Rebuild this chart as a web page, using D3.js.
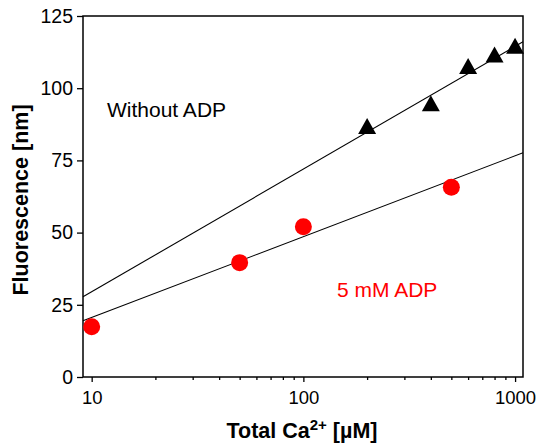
<!DOCTYPE html>
<html>
<head>
<meta charset="utf-8">
<script src="https://cdn.jsdelivr.net/npm/d3@7"></script>
<style>
    body { margin: 0; background: #fff; }
    svg { display: block; font-family: Arial, "Liberation Sans", sans-serif; }
</style>
</head>
<body>
<div id="chart"></div>
<script>
// data
const withoutCa = [200, 400, 600, 800, 1000];
const withoutF = [86.9, 94.8, 107.7, 111.7, 114.7];

const adpCa = [10, 50, 100, 500];
const adpF = [17.4, 39.6, 52.0, 65.7];

// fit lines: value at 10 µM, rise per decade
const withoutFit = [29.5, 42.5];
const adpFit = [20.6, 28.0];

const xMajor = [10, 100, 1000];
const xMinor = [20, 30, 40, 50, 60, 70, 80, 90, 200, 300, 400, 500, 600, 700, 800, 900];
const yTicks = [0, 25, 50, 75, 100, 125];

const W = 536, H = 444;
const margin = { top: 16, right: 13, bottom: 67, left: 83 };
const width = W - margin.left - margin.right;
const height = H - margin.top - margin.bottom;

const svg = d3.select("#chart")
    .append("svg")
    .attr("width", W)
    .attr("height", H);

const g = svg.append("g")
    .attr("transform", `translate(${margin.left}, ${margin.top})`);

const xScale = d3.scaleLog()
    .domain([9.1, 1090])
    .range([0, width]);

const yScale = d3.scaleLinear()
    .domain([0, 125])
    .range([height, 0]);

// minor ticks first, major on top
g.append("g")
    .attr("transform", `translate(0, ${height})`)
    .call(d3.axisBottom(xScale).tickValues(xMinor).tickSize(3).tickFormat(""))
    .call(a => a.select(".domain").remove());

g.append("g")
    .attr("class", "x-axis")
    .attr("transform", `translate(0, ${height})`)
    .call(d3.axisBottom(xScale).tickValues(xMajor).tickSize(5).tickPadding(9).tickFormat(d3.format("d")))
    .call(a => a.select(".domain").remove());

g.append("g")
    .attr("class", "y-axis")
    .call(d3.axisLeft(yScale).tickValues(yTicks).tickSize(6).tickPadding(4))
    .call(a => a.select(".domain").remove());

g.selectAll(".tick line").attr("stroke", "#000").attr("stroke-width", 1.3);
g.selectAll(".tick text").attr("font-size", 19.5).attr("fill", "#000");
// last label sits right at the window edge
g.select(".x-axis").selectAll(".tick text").attr("font-size", 18.5);

// frame
g.append("rect")
    .attr("width", width)
    .attr("height", height)
    .attr("fill", "none")
    .attr("stroke", "#000")
    .attr("stroke-width", 1.5);

// fit lines over the whole x range
const [x0, x1] = xScale.domain();
[withoutFit, adpFit].forEach(fit => {
    const f = x => fit[0] + fit[1] * (Math.log10(x) - 1);
    g.append("line")
        .attr("x1", xScale(x0))
        .attr("y1", yScale(f(x0)))
        .attr("x2", xScale(x1))
        .attr("y2", yScale(f(x1)))
        .attr("stroke", "#000")
        .attr("stroke-width", 1.1);
});

// triangles
g.selectAll(".tri")
    .data(d3.zip(withoutCa, withoutF))
    .join("path")
    .attr("class", "tri")
    .attr("d", d => {
        const cx = xScale(d[0]), cy = yScale(d[1]);
        return `M${cx},${cy - 8}L${cx + 9},${cy + 8}L${cx - 9},${cy + 8}Z`;
    })
    .attr("fill", "#000");

// circles
g.selectAll(".dot")
    .data(d3.zip(adpCa, adpF))
    .join("circle")
    .attr("class", "dot")
    .attr("cx", d => xScale(d[0]))
    .attr("cy", d => yScale(d[1]))
    .attr("r", 8.5)
    .attr("fill", "#ff0000");

// annotations
svg.append("text")
    .attr("x", 107)
    .attr("y", 117)
    .attr("font-size", 21)
    .text("Without ADP");

svg.append("text")
    .attr("x", 337)
    .attr("y", 297)
    .attr("font-size", 21)
    .attr("fill", "#ff0000")
    .text("5 mM ADP");

// axis titles
svg.append("text")
    .attr("transform", "translate(28, 200) rotate(-90)")
    .attr("text-anchor", "middle")
    .attr("font-size", 21.5)
    .attr("font-weight", "bold")
    .text("Fluorescence [nm]");

const xt = svg.append("text")
    .attr("x", 302)
    .attr("y", 438)
    .attr("text-anchor", "middle")
    .attr("font-size", 21.5)
    .attr("font-weight", "bold");
xt.append("tspan").text("Total Ca");
xt.append("tspan").attr("dy", -8).attr("font-size", 15).text("2+");
xt.append("tspan").attr("dy", 8).text(" [µM]");
</script>
</body>
</html>
